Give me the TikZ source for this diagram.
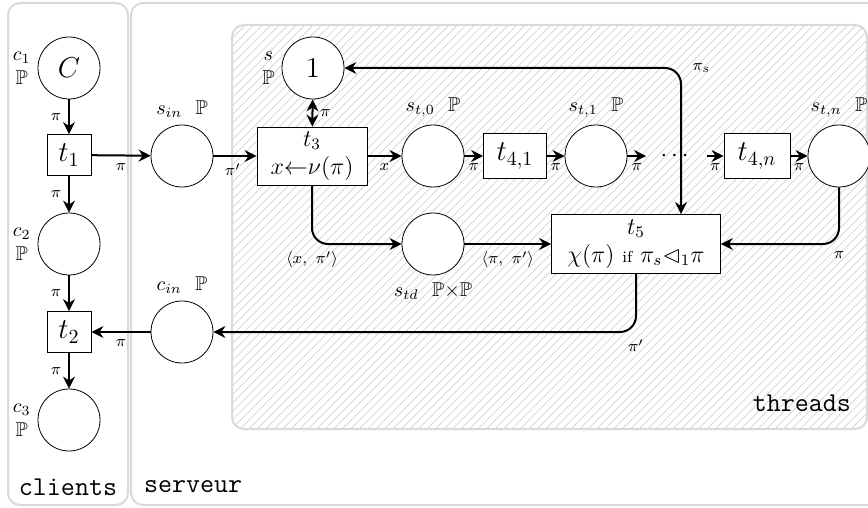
\documentclass[tikz,border=0pt]{standalone}
\usepackage{amsmath,amssymb}
\usetikzlibrary{arrows.meta,patterns.meta,positioning}

\begin{document}
\begin{tikzpicture}[x=0.5pt,y=-0.5pt,
  place/.style={circle,draw,thin,fill=white,minimum size=31pt,inner sep=0pt,font=\Large},
  trans/.style={rectangle,draw,thin,fill=white,inner sep=2pt},
  arc/.style={line width=1pt,-{Stealth[length=6pt,width=6pt,inset=2pt]}},
  arcs/.style={line width=1pt,{Stealth[length=6pt,width=6pt,inset=2pt]}-{Stealth[length=6pt,width=6pt,inset=2pt]}},
  lbl/.style={font=\footnotesize},
  group/.style={draw=black!15,line width=1pt,rounded corners=6pt},
  gname/.style={font=\fontsize{13.6}{16}\selectfont\ttfamily}]
\useasboundingbox (0,0) rectangle (868,508);
% zones
\draw[group] (8,3) rectangle (128,505);
\draw[group] (131,3) rectangle (880,505);
\draw[group,pattern={Lines[angle=45,distance=3pt,line width=0.35pt]},pattern color=black!18] (232,25) rectangle (867,429);
\node[gname] (clients) at (68,487) {clients};
\node[gname,anchor=west] (serveur) at (137,487) {serveur};
\node[gname,anchor=east] (threads) at (858,403) {threads};
% clients
\node[place,label={[align=center]left:$c_1$\\$\mathbb{P}$}] (c1) at (69,68) {$C$};
\node[trans,font=\Large,minimum width=22pt,minimum height=20.5pt] (t1) at (69,155) {$t_1$};
\node[place,label={[align=center]left:$c_2$\\$\mathbb{P}$}] (c2) at (69,244) {};
\node[trans,font=\Large,minimum width=22pt,minimum height=20.5pt] (t2) at (69,332) {$t_2$};
\node[place,label={[align=center]left:$c_3$\\$\mathbb{P}$}] (c3) at (69,420) {};
% serveur
\node[place,label=above:{$s_{in}$~~$\mathbb{P}$}] (sin) at (182,156) {};
\node[place,label=above:{$c_{in}$~~$\mathbb{P}$}] (cin) at (182,332) {};
\node[place,label={[align=center]left:$s$\\$\mathbb{P}$}] (s) at (313,68) {$1$};
\node[trans,font=\large,align=center,minimum width=55pt,minimum height=29pt] (t3) at (312,156) {$t_3$\\$x{\leftarrow}\nu(\pi)$};
\node[place,label=above:{$s_{t,0}$~~$\mathbb{P}$}] (st0) at (433,156) {};
\node[trans,font=\Large,minimum width=31.5pt,minimum height=22.5pt] (t41) at (515,156) {$t_{4,1}$};
\node[place,label=above:{$s_{t,1}$~~$\mathbb{P}$}] (st1) at (596,156) {};
\node[inner xsep=7pt,font=\large] (dots) at (676.5,156) {$\cdots$};
\node[trans,font=\Large,minimum width=33pt,minimum height=22.5pt] (t4n) at (757,156) {$t_{4,n}$};
\node[place,label=above:{$s_{t,n}$~~$\mathbb{P}$}] (stn) at (839,156) {};
\node[place,label=below:{$s_{td}$~~$\mathbb{P}{\times}\mathbb{P}$}] (std) at (433,244) {};
\node[trans,font=\large,align=center,minimum width=84.5pt,minimum height=29.5pt] (t5) at (636,244) {$t_5$\\$\chi(\pi)$ {\footnotesize if} $\pi_s{\lhd}_1\pi$};
% arcs
\draw[arc] (c1) -- node[lbl,left]{$\pi$} (t1);
\draw[arc] (t1) -- node[lbl,left]{$\pi$} (c2);
\draw[arc] (c2) -- node[lbl,left]{$\pi$} (t2);
\draw[arc] (t2) -- node[lbl,left]{$\pi$} (c3);
\draw[arc] (t1) -- node[lbl,below]{$\pi$} (sin);
\draw[arc] (cin) -- node[lbl,below]{$\pi$} (t2);
\draw[arc] (sin) -- node[lbl,below,pos=0.45]{$\pi'$} (t3);
\draw[arcs] (s) -- node[lbl,right]{$\pi$} (t3);
\draw[arc] (t3) -- node[lbl,below]{$x$} (st0);
\draw[arc] (st0) -- node[lbl,below]{$\pi$} (t41);
\draw[arc] (t41) -- node[lbl,below]{$\pi$} (st1);
\draw[arc] (st1) -- node[lbl,below]{$\pi$} (dots);
\draw[arc] (dots) -- node[lbl,below]{$\pi$} (t4n);
\draw[arc] (t4n) -- node[lbl,below]{$\pi$} (stn);
\draw[arc,rounded corners=8pt] (t3) |- node[lbl,below]{$\langle x,~\pi'\rangle$} (std);
\draw[arc] (std) -- node[lbl,below]{$\langle\pi,~\pi'\rangle$} (t5);
\draw[arc,rounded corners=8pt] (stn) |- node[lbl,below]{$\pi$} (t5);
\draw[arc,rounded corners=8pt] (t5) |- node[lbl,below]{$\pi'$} (cin);
\draw[arcs,rounded corners=8pt] (s) -| node[lbl,right,xshift=2pt]{$\pi_s$} ([xshift=22.5pt]t5.north);
\end{tikzpicture}
\end{document}
